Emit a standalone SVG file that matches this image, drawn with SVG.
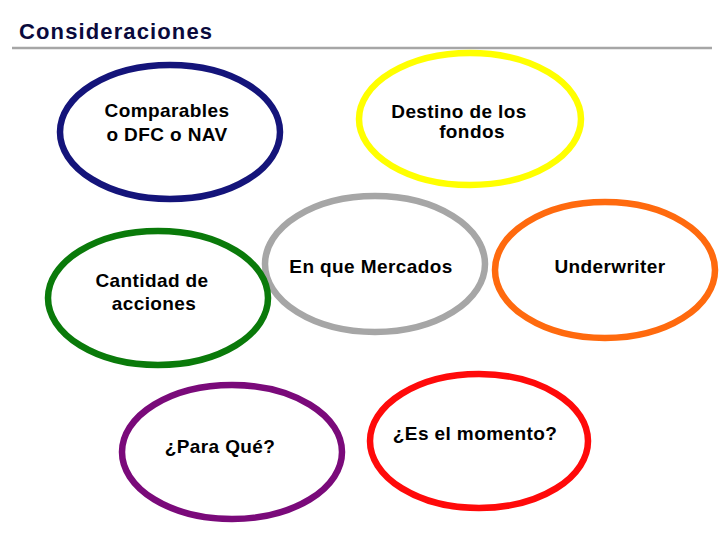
<svg xmlns="http://www.w3.org/2000/svg" width="720" height="540" viewBox="0 0 720 540">
<style>
.n{fill:#ffffff;stroke-width:6.5}
.t{font-family:"Liberation Sans",Arial,sans-serif;font-size:19px;font-weight:bold;fill:#000000;text-anchor:middle;letter-spacing:0.4px}
.title{font-family:"Liberation Sans",Arial,sans-serif;font-size:22px;font-weight:bold;fill:#0a0a3c}
</style>
<rect width="720" height="540" fill="#ffffff"/>
<text class="title" x="19" y="39" textLength="193" lengthAdjust="spacing">Consideraciones</text>
<line x1="12" y1="48" x2="712" y2="48" stroke="#a6a6a6" stroke-width="2.5"/>
<g id="connectors"></g>
<g id="n-comparables">
<ellipse class="n" cx="170" cy="132" rx="110" ry="67" stroke="#14147a"/>
<text class="t" x="167" y="117">Comparables</text>
<text class="t" x="167" y="141">o DFC o NAV</text>
</g>
<g id="n-destino">
<ellipse class="n" cx="470" cy="119" rx="111" ry="66" stroke="#ffff00"/>
<text class="t" x="459" y="118">Destino de los</text>
<text class="t" x="472" y="138">fondos</text>
</g>
<g id="n-mercados">
<ellipse class="n" cx="375" cy="264" rx="110" ry="68" stroke="#a6a6a6"/>
<text class="t" x="371" y="273">En que Mercados</text>
</g>
<g id="n-underwriter">
<ellipse class="n" cx="605" cy="270" rx="110" ry="68" stroke="#ff6a0e"/>
<text class="t" x="610" y="273">Underwriter</text>
</g>
<g id="n-cantidad">
<ellipse class="n" cx="158" cy="298" rx="110" ry="67" stroke="#0a7a0a"/>
<text class="t" x="152" y="287">Cantidad de</text>
<text class="t" x="154" y="310">acciones</text>
</g>
<g id="n-paraque">
<ellipse class="n" cx="232" cy="452" rx="110" ry="67" stroke="#7a0a7a"/>
<text class="t" x="220" y="453">¿Para Qué?</text>
</g>
<g id="n-momento">
<ellipse class="n" cx="479" cy="441" rx="109" ry="67" stroke="#ff0a0a"/>
<text class="t" x="475" y="440">¿Es el momento?</text>
</g>
</svg>
